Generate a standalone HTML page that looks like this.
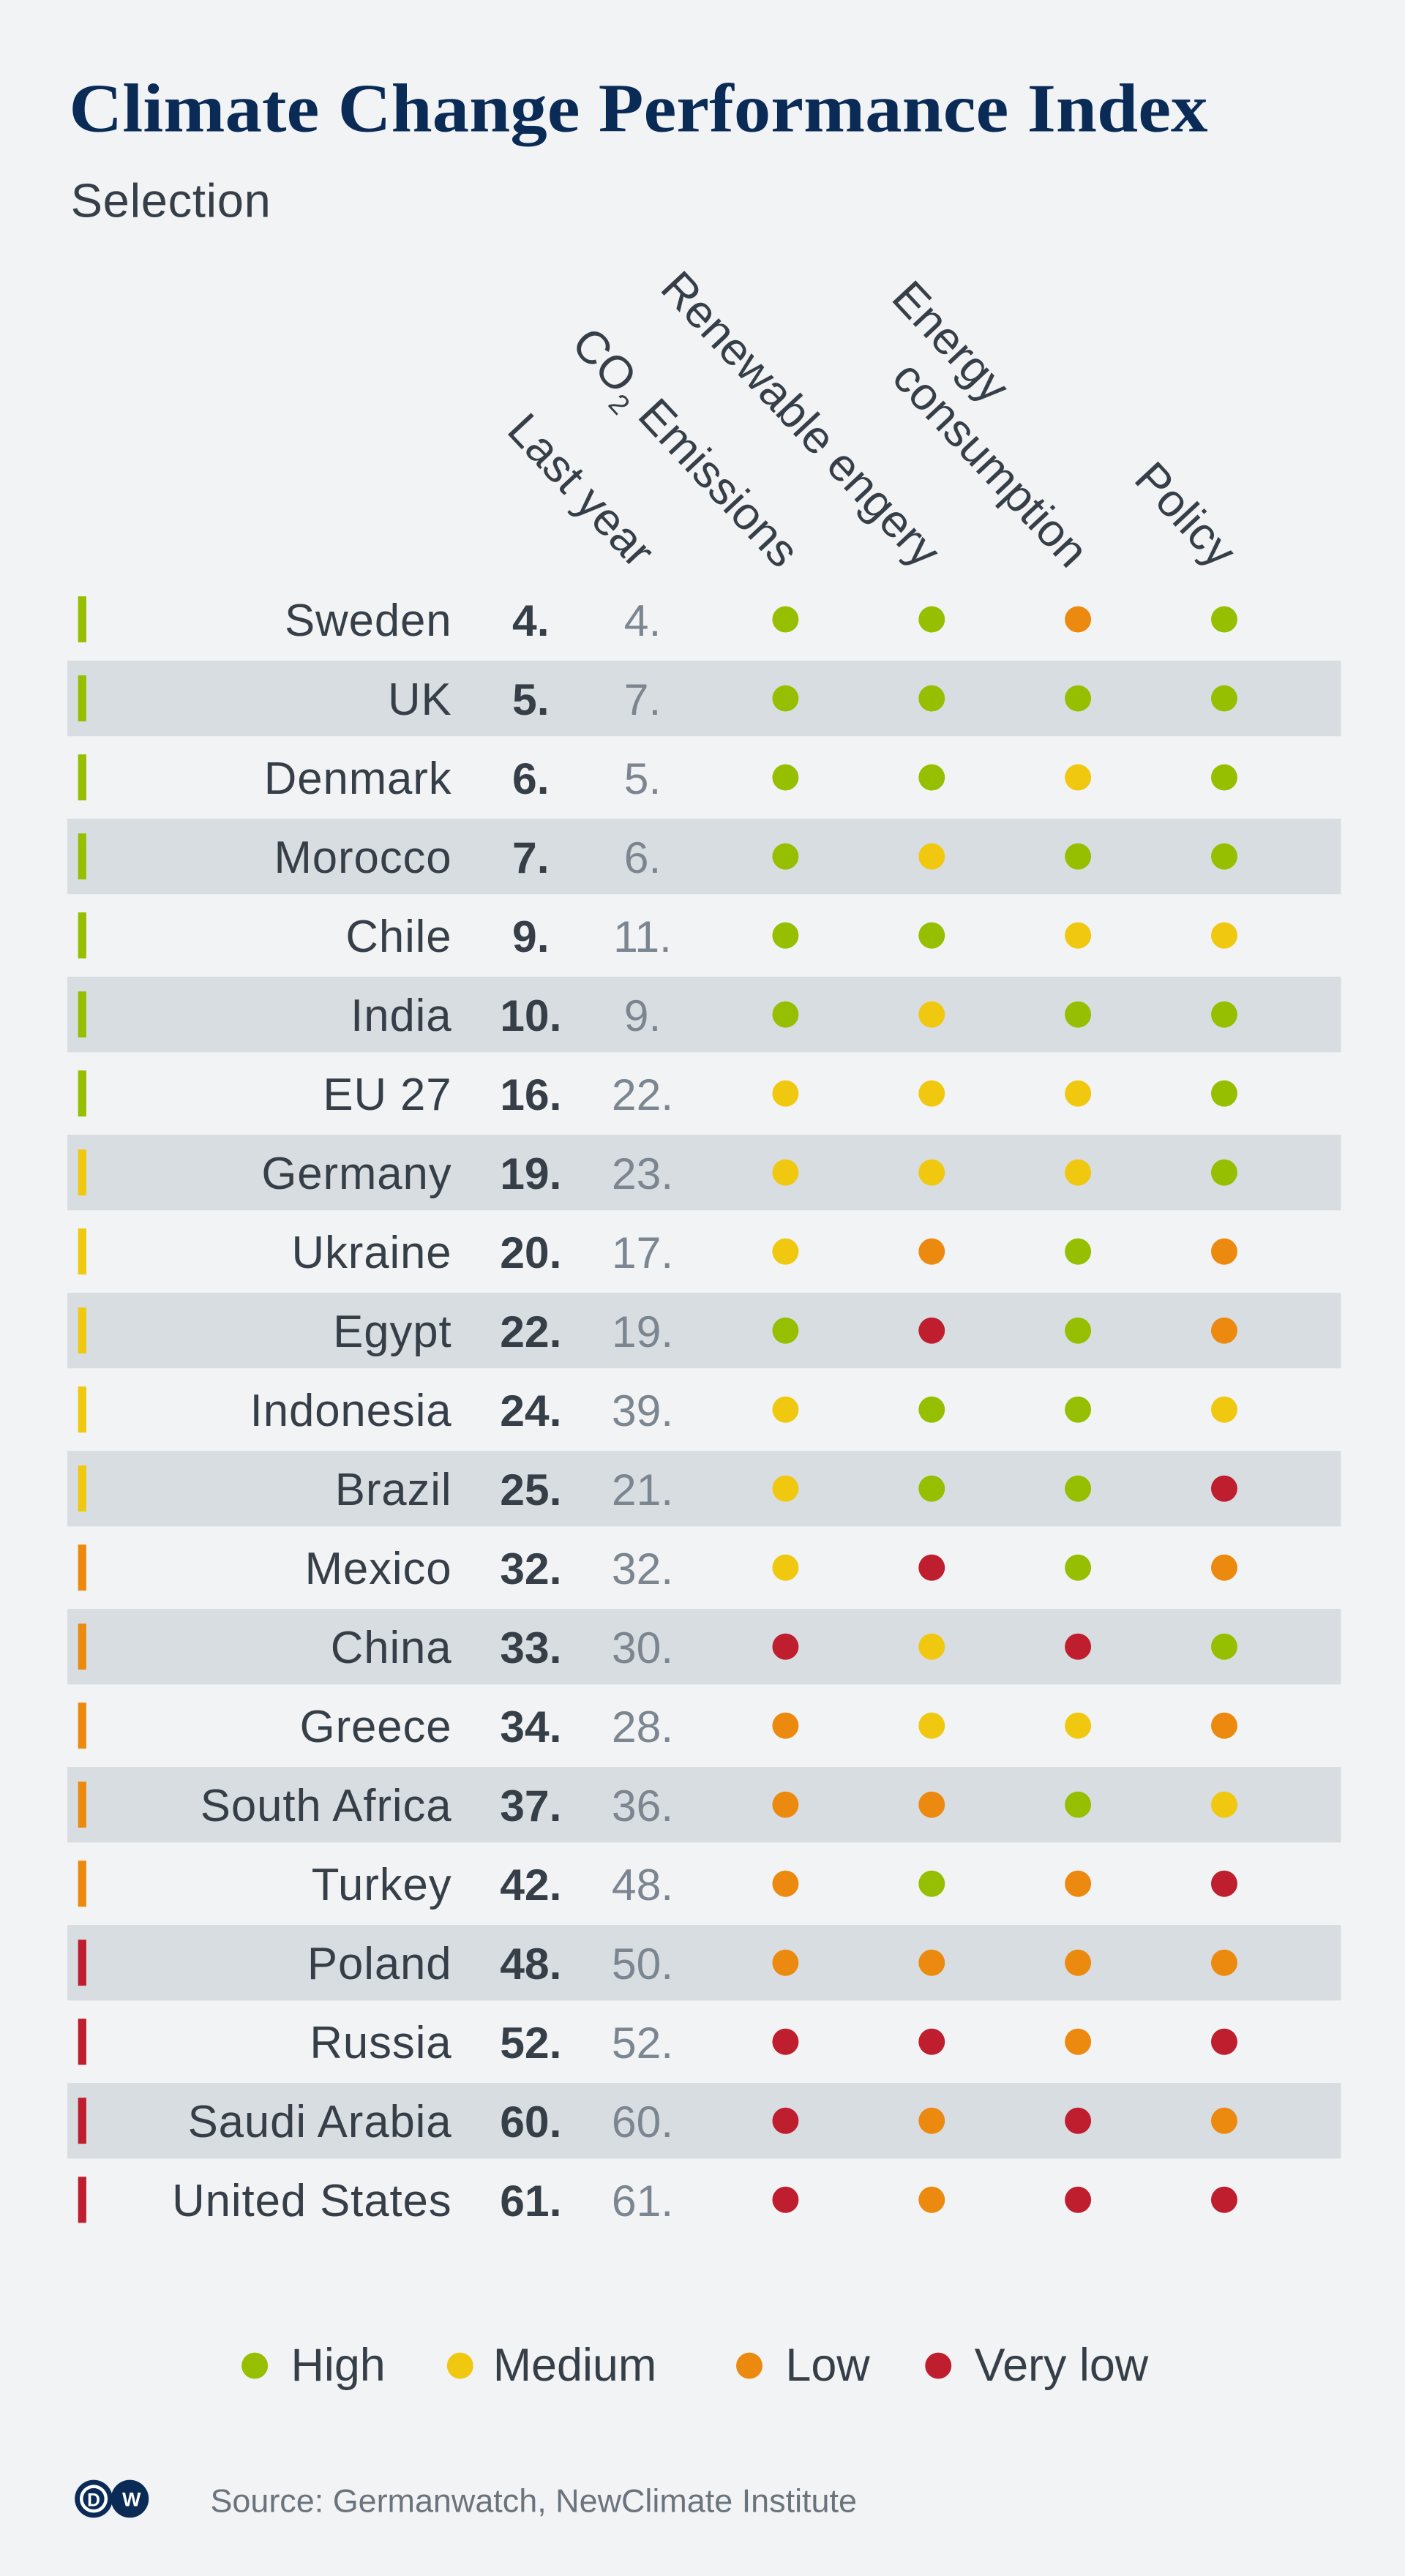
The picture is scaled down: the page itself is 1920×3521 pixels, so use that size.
<!DOCTYPE html>
<html><head><meta charset="utf-8"><style>
html,body{margin:0;padding:0;background:#f1f3f5;}
svg{display:block;}
text{font-family:"Liberation Sans",sans-serif;}
</style></head><body>
<svg width="1920" height="3521" viewBox="0 0 855 1568" xmlns="http://www.w3.org/2000/svg">
<rect width="855" height="1568" fill="#f1f3f5"/>
<text x="42" y="80" font-weight="bold" font-size="42" fill="#0b2b57" textLength="693" lengthAdjust="spacingAndGlyphs" style="font-family:'Liberation Serif',serif">Climate Change Performance Index</text>
<text x="43" y="132" font-size="29" fill="#363f48" letter-spacing="0.3">Selection</text>
<g font-size="28" fill="#363f48">
<text transform="translate(386,347) rotate(47)" text-anchor="end">Last year</text>
<text transform="translate(474,347) rotate(47)" text-anchor="end">CO<tspan font-size="17" dy="8">2</tspan><tspan dy="-8"> Emissions</tspan></text>
<text transform="translate(560,347) rotate(47)" text-anchor="end">Renewable engery</text>
<text transform="translate(602,247) rotate(47)" text-anchor="end">Energy</text>
<text transform="translate(650,347) rotate(47)" text-anchor="end">consumption</text>
<text transform="translate(740,347) rotate(47)" text-anchor="end">Policy</text>
</g>
<g id="rows"></g>
<g font-size="28" fill="#363f48">
<circle cx="155" cy="1440" r="8" fill="#95bf00"/><text x="177" y="1449">High</text>
<circle cx="280" cy="1440" r="8" fill="#f0c80f"/><text x="300" y="1449">Medium</text>
<circle cx="456" cy="1440" r="8" fill="#ec8a0f"/><text x="478" y="1449">Low</text>
<circle cx="571" cy="1440" r="8" fill="#be1e2d"/><text x="593" y="1449">Very low</text>
</g>
<circle cx="79" cy="1521" r="11.5" fill="#0b2b57"/>
<circle cx="57" cy="1521" r="11.5" fill="#0b2b57"/>
<circle cx="57" cy="1521" r="8.5" fill="#fff"/>
<circle cx="57" cy="1521" r="6.5" fill="#0b2b57"/>
<text x="57" y="1525.5" font-size="11" font-weight="bold" fill="#fff" text-anchor="middle">D</text>
<text x="80" y="1525.5" font-size="12" font-weight="bold" fill="#fff" text-anchor="middle">W</text>
<text x="128" y="1529" font-size="20" fill="#6b747d">Source: Germanwatch, NewClimate Institute</text>
</svg>
<script>
var C={G:"#95bf00",Y:"#f0c80f",O:"#ec8a0f",R:"#be1e2d"};
var d=[["Sweden","4.","4.","GGOG","G"],["UK","5.","7.","GGGG","G"],["Denmark","6.","5.","GGYG","G"],["Morocco","7.","6.","GYGG","G"],["Chile","9.","11.","GGYY","G"],["India","10.","9.","GYGG","G"],["EU 27","16.","22.","YYYG","G"],["Germany","19.","23.","YYYG","Y"],["Ukraine","20.","17.","YOGO","Y"],["Egypt","22.","19.","GRGO","Y"],["Indonesia","24.","39.","YGGY","Y"],["Brazil","25.","21.","YGGR","Y"],["Mexico","32.","32.","YRGO","O"],["China","33.","30.","RYRG","O"],["Greece","34.","28.","OYYO","O"],["South Africa","37.","36.","OOGY","O"],["Turkey","42.","48.","OGOR","O"],["Poland","48.","50.","OOOO","R"],["Russia","52.","52.","RROR","R"],["Saudi Arabia","60.","60.","RORO","R"],["United States","61.","61.","RORR","R"]];
var s="",xs=[478,567,656,745];
d.forEach(function(r,i){var y=377+i*48.1;
if(i%2==1)s+='<rect x="41" y="'+(y-23)+'" width="775" height="46" fill="#d8dde1"/>';
s+='<rect x="47.5" y="'+(y-14)+'" width="5" height="28" fill="'+C[r[4]]+'"/>';
s+='<text x="275" y="'+(y+10)+'" font-size="27.5" letter-spacing="0.4" fill="#363f48" text-anchor="end">'+r[0]+'</text>';
s+='<text x="323" y="'+(y+10)+'" font-size="27" font-weight="bold" fill="#363f48" text-anchor="middle">'+r[1]+'</text>';
s+='<text x="391" y="'+(y+10)+'" font-size="27" fill="#7c8690" text-anchor="middle">'+r[2]+'</text>';
for(var k=0;k<4;k++)s+='<circle cx="'+xs[k]+'" cy="'+y+'" r="8" fill="'+C[r[3][k]]+'"/>';
});
document.getElementById("rows").innerHTML=s;
</script>
</body></html>
